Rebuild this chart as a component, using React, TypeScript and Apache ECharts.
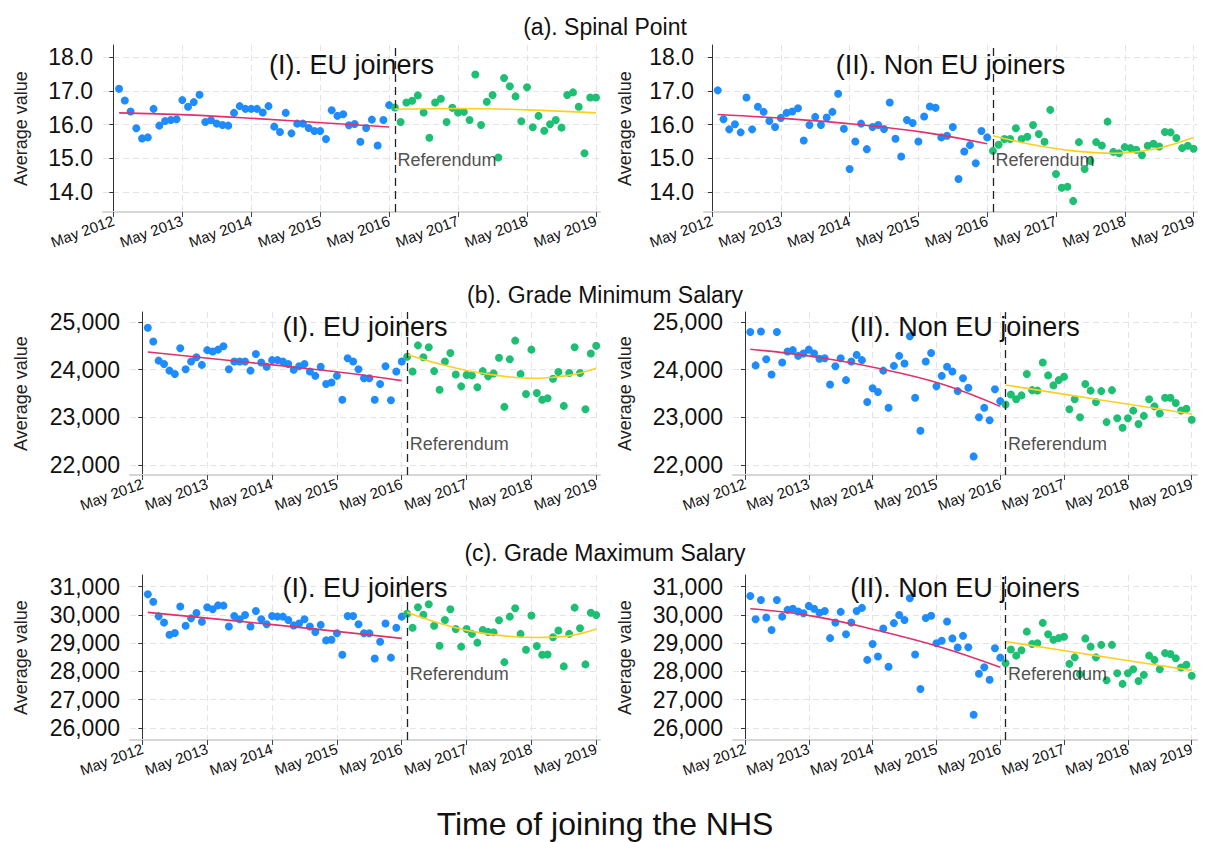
import React, { useEffect, useRef } from "react";
import * as echarts from "echarts";

// ---------- axis ticks / labels ----------
const monthTicks = [0, 12, 24, 36, 48, 60, 72, 84]; // months since May 2012
const tickLabels = ["May 2012", "May 2013", "May 2014", "May 2015", "May 2016", "May 2017", "May 2018", "May 2019"];
const referendumMonth = 49; // June 2016
const preStartMonth = 1; // June 2012
const postStartMonth = 49; // June 2016

const spinalTicks = [14, 15, 16, 17, 18];
const minSalaryTicks = [22000, 23000, 24000, 25000];
const maxSalaryTicks = [26000, 27000, 28000, 29000, 30000, 31000];

// ---------- (a) Spinal Point ----------
const spinalEUPre = [17.07, 16.72, 16.39, 15.89, 15.59, 15.62, 16.47, 15.97, 16.11, 16.14, 16.16, 16.73, 16.53, 16.67, 16.89, 16.08, 16.13, 16.03, 15.99, 15.97, 16.35, 16.55, 16.47, 16.47, 16.47, 16.36, 16.55, 15.94, 15.78, 16.35, 15.74, 16.03, 16.03, 15.9, 15.81, 15.81, 15.57, 16.43, 16.26, 16.31, 15.98, 16.02, 15.49, 15.9, 16.15, 15.38, 16.14, 16.58];
const spinalEUPost = [16.51, 16.08, 16.66, 16.71, 16.87, 16.36, 15.61, 16.66, 16.77, 16.08, 16.5, 16.36, 16.38, 16.14, 17.49, 15.99, 16.68, 16.88, 15.02, 17.39, 17.14, 16.84, 16.1, 17.11, 15.92, 16.26, 15.82, 16.01, 16.14, 15.91, 16.88, 16.96, 16.53, 15.15, 16.81, 16.81];
const spinalNonEUPre = [17.02, 16.16, 15.86, 16.01, 15.77, 16.81, 15.86, 16.53, 16.38, 16.11, 15.93, 16.2, 16.35, 16.39, 16.49, 15.53, 15.99, 16.23, 15.99, 16.21, 16.38, 16.92, 15.88, 14.68, 15.5, 16.03, 15.27, 15.93, 15.99, 15.87, 16.66, 15.58, 15.05, 16.14, 16.05, 15.5, 16.24, 16.54, 16.5, 15.62, 15.67, 15.93, 14.38, 15.2, 15.39, 14.85, 15.81, 15.62];
const spinalNonEUPost = [15.22, 15.4, 15.57, 15.57, 15.89, 15.57, 15.64, 15.99, 15.72, 15.49, 16.44, 14.53, 14.12, 14.15, 13.73, 15.48, 14.68, 14.92, 15.48, 15.38, 16.09, 15.19, 15.15, 15.33, 15.3, 15.25, 15.09, 15.37, 15.43, 15.35, 15.78, 15.77, 15.6, 15.3, 15.37, 15.28];
const spinalEUPreFit = [[1, 16.35], [13, 16.29], [25, 16.18], [37, 16.05], [48, 15.93]];
const spinalEUPostFit = [[49, 16.46], [60, 16.48], [72, 16.44], [84, 16.35]];
const spinalNonEUPreFit = [[1, 16.3], [13, 16.18], [25, 16.01], [37, 15.77], [48, 15.43]];
const spinalNonEUPostFit = [[49, 15.67], [56, 15.4], [63, 15.22], [70, 15.15], [77, 15.27], [84, 15.62]];

// ---------- (b) Grade Minimum Salary ----------
const minEUPre = [24880, 24590, 24190, 24120, 23980, 23910, 24450, 24010, 24170, 24260, 24100, 24410, 24380, 24420, 24490, 24010, 24170, 24170, 24170, 23980, 24330, 24150, 24060, 24200, 24200, 24170, 24120, 24000, 24070, 24120, 23960, 23870, 24060, 23700, 23730, 23870, 23370, 24240, 24170, 24010, 23820, 23820, 23370, 23700, 24070, 23360, 23960, 24170];
const minEUPost = [24270, 23960, 24510, 24260, 24470, 23970, 23580, 24170, 24350, 23900, 23650, 23890, 23880, 23630, 23970, 23860, 23920, 24250, 23220, 24220, 24610, 23910, 23490, 24420, 23510, 23370, 23400, 23810, 23950, 23240, 23930, 24470, 23930, 23170, 24340, 24500];
const minNonEUPre = [24790, 24090, 24800, 24220, 23900, 24790, 24150, 24380, 24410, 24290, 24340, 24420, 24340, 24230, 24240, 23690, 24070, 24240, 23780, 24170, 24310, 24200, 23320, 23610, 23530, 23980, 23200, 24080, 24290, 24130, 24700, 23410, 22720, 24170, 24350, 23650, 23870, 24060, 23960, 23550, 23820, 23620, 22180, 23000, 23200, 22940, 23590, 23340];
const minNonEUPost = [23270, 23480, 23380, 23460, 23910, 23570, 23560, 24150, 23880, 23670, 23780, 23850, 23170, 23380, 23000, 23700, 23560, 23320, 23550, 22900, 23570, 22980, 22780, 22980, 23140, 22860, 23030, 23380, 23230, 23080, 23410, 23410, 23300, 23140, 23180, 22950];
const minEUPreFit = [[1, 24370], [13, 24230], [25, 24090], [37, 23940], [48, 23770]];
const minEUPostFit = [[49, 24320], [55, 24120], [61, 23960], [67, 23860], [73, 23820], [79, 23880], [84, 24030]];
const minNonEUPreFit = [[1, 24430], [13, 24270], [25, 24030], [37, 23700], [48, 23230]];
const minNonEUPostFit = [[49, 23680], [66, 23380], [84, 23070]];

// ---------- (c) Grade Maximum Salary ----------
const maxEUPre = [30730, 30470, 29950, 29730, 29300, 29360, 30300, 29620, 29880, 30070, 29760, 30270, 30200, 30340, 30330, 29590, 29960, 29850, 30000, 29590, 30140, 29850, 29670, 29960, 29940, 29940, 29820, 29630, 29700, 29850, 29590, 29400, 29650, 29100, 29120, 29350, 28590, 29960, 29960, 29670, 29350, 29350, 28460, 29050, 29700, 28490, 29550, 29940];
const maxEUPost = [30040, 29550, 30270, 30010, 30380, 29620, 28910, 29820, 30200, 29500, 28880, 29500, 29330, 29020, 29470, 29400, 29390, 29810, 28330, 29940, 30240, 29330, 28770, 29980, 28900, 28590, 28600, 29210, 29450, 28180, 29330, 30260, 29530, 28250, 30080, 30000];
const maxNonEUPre = [30670, 29850, 30530, 29910, 29470, 30530, 29940, 30180, 30220, 30120, 30060, 30320, 30220, 30080, 30140, 29180, 29730, 30110, 29320, 29730, 30140, 30250, 28410, 28970, 28530, 29520, 28170, 29710, 30000, 29820, 30590, 28600, 27380, 29890, 29970, 29000, 29090, 29770, 29170, 28850, 29260, 28860, 26470, 27920, 28150, 27710, 28820, 28490];
const maxNonEUPost = [28290, 28780, 28560, 28750, 29410, 28970, 29000, 29720, 29320, 29120, 29180, 29230, 28270, 28500, 27900, 29170, 28880, 28500, 28940, 27690, 28940, 27940, 27560, 27940, 28080, 27660, 27880, 28560, 28410, 28080, 28650, 28620, 28470, 28140, 28240, 27850];
const maxEUPreFit = [[1, 30090], [25, 29640], [48, 29170]];
const maxEUPostFit = [[49, 30100], [55, 29710], [61, 29420], [67, 29260], [73, 29200], [79, 29260], [84, 29500]];
const maxNonEUPreFit = [[1, 30220], [13, 29950], [25, 29450], [37, 28850], [48, 28150]];
const maxNonEUPostFit = [[49, 29060], [66, 28560], [84, 28040]];

// ---------- texts ----------
const rowTitles = ["(a). Spinal Point", "(b). Grade Minimum Salary", "(c). Grade Maximum Salary"];
const panelTitles = ["(I). EU joiners", "(II). Non EU joiners"];
const xTitle = "Time of joining the NHS";
const yTitle = "Average value";
const refText = "Referendum";

const FONT = "'Liberation Sans', Arial, Helvetica, sans-serif";
const BLUE = "#1E8CFF";
const GREEN = "#1DBF73";
const RED = "#E2306B";
const GOLD = "#FFCF1F";

const fmt1 = (v: number) => v.toFixed(1);
const fmtK = (v: number) => v.toLocaleString("en-US");

const rows = [
  {
    title: rowTitles[0], titleY: 27, top: 45, height: 167, yMin: 13.4, yMax: 18.37, ticks: spinalTicks, fmt: fmt1, refY: 14.94, subY: 65,
    cols: [
      { left: 103, width: 497, xMin: -1.8, xMax: 84.7, nameGap: 73 },
      { left: 704, width: 493, xMin: -1.4, xMax: 84.6, nameGap: 70 },
    ],
  },
  {
    title: rowTitles[1], titleY: 295, top: 312, height: 163, yMin: 21790, yMax: 25210, ticks: minSalaryTicks, fmt: fmtK, refY: 22450, subY: 327,
    cols: [
      { left: 130, width: 470, xMin: -2.3, xMax: 84.7, nameGap: 100 },
      { left: 733, width: 464, xMin: -2.25, xMax: 85, nameGap: 99 },
    ],
  },
  {
    title: rowTitles[2], titleY: 553, top: 575, height: 165, yMin: 25575, yMax: 31414, ticks: maxSalaryTicks, fmt: fmtK, refY: 27920, subY: 588,
    cols: [
      { left: 130, width: 470, xMin: -2.3, xMax: 84.7, nameGap: 100 },
      { left: 733, width: 464, xMin: -2.25, xMax: 85, nameGap: 99 },
    ],
  },
];

const panels = [
  { row: 0, col: 0, pre: spinalEUPre, post: spinalEUPost, preFit: spinalEUPreFit, postFit: spinalEUPostFit },
  { row: 0, col: 1, pre: spinalNonEUPre, post: spinalNonEUPost, preFit: spinalNonEUPreFit, postFit: spinalNonEUPostFit },
  { row: 1, col: 0, pre: minEUPre, post: minEUPost, preFit: minEUPreFit, postFit: minEUPostFit },
  { row: 1, col: 1, pre: minNonEUPre, post: minNonEUPost, preFit: minNonEUPreFit, postFit: minNonEUPostFit },
  { row: 2, col: 0, pre: maxEUPre, post: maxEUPost, preFit: maxEUPreFit, postFit: maxEUPostFit },
  { row: 2, col: 1, pre: maxNonEUPre, post: maxNonEUPost, preFit: maxNonEUPreFit, postFit: maxNonEUPostFit },
];

export default function App() {
  const ref = useRef<HTMLDivElement>(null);
  useEffect(() => {
    if (!ref.current) return;
    const chart = echarts.init(ref.current, null, { renderer: "svg" });
    const grid: any[] = [];
    const xAxis: any[] = [];
    const yAxis: any[] = [];
    const series: any[] = [];
    const graphic: any[] = [];

    rows.forEach((r) => {
      graphic.push({
        type: "text", x: 605, y: r.titleY, z: 100,
        style: { text: r.title, fontSize: 23, fontFamily: FONT, fill: "#111", align: "center", verticalAlign: "middle" },
      });
    });
    graphic.push({
      type: "text", x: 605, y: 824, z: 100,
      style: { text: xTitle, fontSize: 32, fontFamily: FONT, fill: "#111", align: "center", verticalAlign: "middle" },
    });

    panels.forEach((p, i) => {
      const r = rows[p.row];
      const c = r.cols[p.col];
      grid.push({ left: c.left, top: r.top, width: c.width, height: r.height });
      xAxis.push({
        type: "value", gridIndex: i, min: c.xMin, max: c.xMax,
        axisLine: { show: true, onZero: false, lineStyle: { color: "#d6d6d6", width: 2 } },
        axisTick: { show: true, customValues: monthTicks, length: 5, lineStyle: { color: "#444", width: 1 } },
        axisLabel: {
          customValues: monthTicks,
          formatter: (v: number) => tickLabels[Math.round(v / 12)] ?? "",
          rotate: 20, fontSize: 15, color: "#111", fontFamily: FONT, margin: 8,
        },
        splitLine: { show: true, lineStyle: { color: "#e4e4e4", type: [6, 4], width: 1 } },
      });
      yAxis.push({
        type: "value", gridIndex: i, min: r.yMin, max: r.yMax,
        name: yTitle, nameLocation: "middle", nameGap: c.nameGap,
        nameTextStyle: { fontSize: 18, color: "#222", fontFamily: FONT },
        axisLine: { show: true, lineStyle: { color: "#333", width: 1 } },
        axisTick: { show: true, customValues: r.ticks, length: 4, lineStyle: { color: "#333" } },
        axisLabel: { customValues: r.ticks, formatter: r.fmt, fontSize: 23, color: "#111", fontFamily: FONT, margin: 10 },
        splitLine: { show: true, lineStyle: { color: "#e4e4e4", type: [6, 4], width: 1 } },
      });
      series.push({
        type: "scatter", xAxisIndex: i, yAxisIndex: i, symbolSize: 8, z: 3,
        itemStyle: { color: BLUE, opacity: 1 },
        data: p.pre.map((v, k) => [preStartMonth + k, v]),
      });
      series.push({
        type: "scatter", xAxisIndex: i, yAxisIndex: i, symbolSize: 8, z: 3,
        itemStyle: { color: GREEN, opacity: 1 },
        data: p.post.map((v, k) => [postStartMonth + k, v]),
      });
      series.push({
        type: "line", xAxisIndex: i, yAxisIndex: i, smooth: 0.4, symbol: "none", showSymbol: false, z: 4,
        lineStyle: { color: RED, width: 1.6 }, data: p.preFit,
      });
      series.push({
        type: "line", xAxisIndex: i, yAxisIndex: i, smooth: 0.4, symbol: "none", showSymbol: false, z: 4,
        lineStyle: { color: GOLD, width: 1.6 }, data: p.postFit,
      });
      series.push({
        type: "scatter", xAxisIndex: i, yAxisIndex: i, symbolSize: 1, z: 5, silent: true,
        itemStyle: { color: "rgba(0,0,0,0)" },
        label: { show: true, position: "right", distance: 2, formatter: refText, fontSize: 18, color: "#222", fontFamily: FONT },
        data: [[referendumMonth, r.refY]],
        markLine: {
          symbol: ["none", "none"], silent: true, label: { show: false },
          lineStyle: { color: "#222", type: [8, 5], width: 1.3 },
          data: [{ xAxis: referendumMonth }],
        },
      });
      graphic.push({
        type: "text", x: c.left + c.width / 2, y: r.subY, z: 100,
        style: { text: panelTitles[p.col], fontSize: 27, fontFamily: FONT, fill: "#111", align: "center", verticalAlign: "middle" },
      });
    });

    chart.setOption({
      animation: false,
      backgroundColor: "#ffffff",
      grid, xAxis, yAxis, series, graphic,
    });
    return () => chart.dispose();
  }, []);

  return (
    <div
      ref={ref}
      style={{ position: "absolute", left: 0, top: 0, width: 1210, height: 842, background: "#fff" }}
    />
  );
}
